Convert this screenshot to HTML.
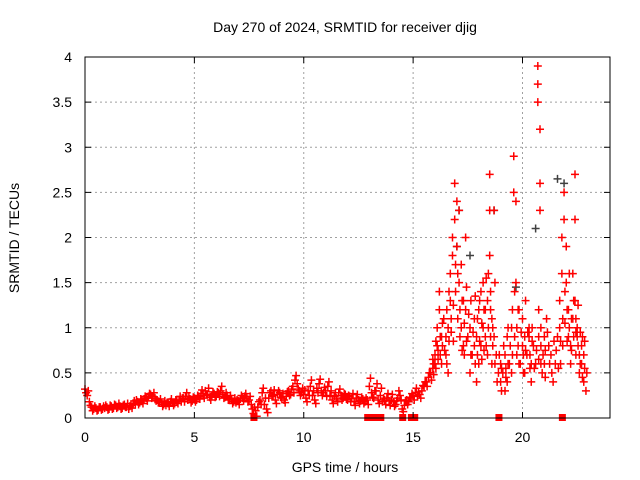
<!DOCTYPE html>
<html><head><meta charset="utf-8"><style>
body{margin:0;background:#fff}
svg{display:block;font-family:"Liberation Sans",Arial,sans-serif}
</style></head><body>
<svg id="chart" width="640" height="480">
<text x="345" y="32" text-anchor="middle" font-size="14">Day 270 of 2024, SRMTID for receiver djig</text>
<text x="345" y="472" text-anchor="middle" font-size="14">GPS time / hours</text>
<text transform="translate(19,238) rotate(-90)" text-anchor="middle" font-size="14">SRMTID / TECUs</text>
<g id="grid"></g><g id="marks"></g><g id="axes"></g>
</svg>
<script>
const xTicks=[0,5,10,15,20];
const yTicks=[0,0.5,1,1.5,2,2.5,3,3.5,4];
const yTickLabels=["0","0.5","1","1.5","2","2.5","3","3.5","4"];
const baseStart=0, baseStep=0.1;
const baseA=[0.32,0.25,0.18,0.12,0.10,0.11,0.09,0.12,0.10,0.11,
0.12,0.10,0.13,0.11,0.14,0.12,0.13,0.11,0.15,0.12,
0.10,0.14,0.16,0.15,0.18,0.17,0.19,0.21,0.22,0.24,
0.26,0.24,0.22,0.20,0.18,0.17,0.15,0.14,0.16,0.18,
0.17,0.16,0.19,0.20,0.18,0.22,0.24,0.20,0.21,0.19,
0.22,0.20,0.24,0.27,0.25,0.30,0.26,0.23,0.25,0.27,
0.24,0.28,0.30,0.26,0.23,0.25,0.21,0.20,0.18,0.17,
0.19,0.21,0.22,0.24,0.22,0.20,0.15,0.05,0.08,0.12,
0.20,0.28,0.15,0.10,0.22,0.30,0.25,0.20,0.26,0.28,
0.22,0.20,0.24,0.30,0.26,0.35,0.42,0.38,0.30,0.28,
0.26,0.22,0.30,0.35,0.25,0.20,0.33,0.38,0.30,0.28,
0.30,0.35,0.25,0.20,0.24,0.22,0.28,0.25,0.22,0.26,
0.20,0.24,0.22,0.18,0.22,0.20,0.19,0.21,0.18,0.20,
0.35,0.28,0.22,0.30,0.20,0.25,0.18,0.20,0.22,0.19,
0.20,0.18,0.15,0.22,0.25,0.10,0.14,0.20,0.18,0.22,
0.25,0.28,0.24,0.26,0.30,0.35];
const baseB=[0.28,0.30,0.14,0.08,0.13,0.08,0.12,0.09,0.13,0.14,
0.09,0.14,0.10,0.15,0.11,0.16,0.10,0.14,0.12,0.16,
0.13,0.11,0.19,0.20,0.15,0.21,0.16,0.24,0.19,0.27,
0.22,0.28,0.19,0.17,0.21,0.13,0.19,0.17,0.13,0.21,
0.14,0.20,0.16,0.24,0.22,0.18,0.28,0.24,0.17,0.23,
0.18,0.25,0.21,0.31,0.22,0.26,0.33,0.20,0.29,0.23,
0.29,0.24,0.35,0.22,0.28,0.20,0.25,0.16,0.22,0.20,
0.15,0.25,0.19,0.27,0.18,0.24,0.10,0.12,0.02,0.18,
0.15,0.33,0.22,0.06,0.28,0.24,0.31,0.16,0.30,0.23,
0.27,0.17,0.29,0.25,0.32,0.28,0.47,0.32,0.25,0.33,
0.31,0.18,0.25,0.42,0.30,0.16,0.28,0.43,0.25,0.34,
0.24,0.40,0.30,0.16,0.28,0.18,0.32,0.20,0.27,0.21,
0.25,0.18,0.27,0.14,0.26,0.16,0.23,0.16,0.22,0.15,
0.44,0.23,0.30,0.38,0.16,0.33,0.22,0.15,0.27,0.14,
0.26,0.13,0.19,0.30,0.20,0.07,0.19,0.15,0.23,0.27,
0.20,0.33,0.29,0.22,0.36,0.40];
const stormT=[15.6,15.7,15.8,15.9,15.9,16.0,16.0,16.1,16.1,16.2,16.2,16.3,16.3,16.4,16.5,16.5,16.6,16.6,16.7,16.7,16.8,16.8,16.9,16.9,17.0,17.0,17.1,17.1,17.2,17.2,17.3,17.3,17.4,17.4,17.5,17.6,17.6,17.7,17.8,17.8,17.9,17.9,18.0,18.0,18.1,18.1,18.2,18.2,18.3,18.3,18.4,18.4,18.5,18.5,18.5,18.6,18.6,18.7,18.7,18.8,18.9,19.0,19.0,19.1,19.2,19.2,19.3,19.3,19.4,19.5,19.5,19.6,19.6,19.7,19.7,19.8,19.8,19.9,20.0,20.0,20.1,20.1,20.2,20.3,20.3,20.4,20.4,20.5,20.6,20.7,20.7,20.7,20.8,20.8,20.8,20.9,21.0,21.0,21.1,21.2,21.3,21.4,21.5,21.6,21.7,21.7,21.8,21.8,21.9,21.9,22.0,22.0,22.1,22.1,22.2,22.2,22.3,22.3,22.4,22.4,22.4,22.5,22.5,22.6,22.6,22.7,22.7,22.8,22.8,22.9];
const stormA=[0.40,0.45,0.50,0.55,0.65,0.60,0.70,0.80,1.00,1.20,1.40,0.90,0.60,1.10,0.70,0.90,1.00,0.50,1.30,1.60,1.80,2.00,2.60,2.20,1.90,2.40,1.50,2.30,1.70,1.00,0.80,1.30,2.00,1.20,0.90,0.50,1.00,0.70,1.10,0.80,0.40,0.90,1.20,0.60,0.80,1.40,1.50,1.00,0.90,1.20,1.30,0.70,2.30,2.70,1.80,1.10,0.60,0.90,2.30,0.70,0.50,0.40,0.60,0.50,0.30,0.70,0.90,0.40,0.60,1.00,0.50,2.90,2.50,2.40,1.50,1.20,0.80,0.60,0.80,1.10,0.90,0.50,0.70,0.90,1.00,0.60,0.40,0.80,0.60,3.90,3.70,3.50,3.20,2.60,2.30,0.50,0.60,0.90,1.10,0.80,0.70,0.40,0.60,0.90,1.30,1.00,1.60,2.00,2.20,2.50,1.90,1.50,1.20,0.90,0.80,0.60,1.60,1.10,2.70,2.20,1.30,0.90,1.00,0.70,0.50,0.80,0.60,0.40,0.70,0.30];
const stormB=[0.35,0.50,0.42,0.60,0.48,0.55,0.85,0.65,0.75,0.90,0.70,1.05,0.80,0.75,1.20,0.60,0.85,1.40,0.95,1.10,1.25,0.85,1.70,1.40,1.10,1.60,0.90,1.20,1.30,0.75,1.05,0.70,1.45,0.85,1.15,0.70,1.30,0.95,0.60,1.35,0.70,1.10,0.85,1.30,1.05,0.65,1.20,0.75,1.55,0.80,1.00,1.60,1.20,0.90,1.40,0.80,1.00,1.50,0.60,0.40,0.70,0.55,0.30,0.80,0.55,0.45,0.60,1.00,0.80,0.70,1.20,0.90,1.40,0.70,1.00,0.60,1.20,0.95,0.50,0.70,1.30,0.75,0.95,0.55,0.70,1.00,0.85,0.55,0.75,0.65,0.90,1.20,0.60,0.80,1.00,0.70,0.45,0.75,0.95,0.60,0.50,0.85,0.75,0.55,0.85,0.60,1.10,0.80,1.40,1.05,1.20,0.85,1.60,1.00,0.75,1.10,0.90,1.30,0.70,1.10,0.95,0.80,1.25,0.60,0.95,0.45,0.90,0.55,0.85,0.50];
const zeroT=[7.7,12.9,13.2,13.5,14.5,14.9,15.05,18.9,21.8];
const grayT=[17.0,17.1,17.6,18.7,19.7,20.6,21.6,21.9];
const grayV=[1.9,2.3,1.8,2.3,1.45,2.1,2.65,2.6];

const L=85,R=610,T=57,B=418,XMAX=24,YMAX=4;
const X=v=>L+(R-L)*v/XMAX, Y=v=>B-(B-T)*v/YMAX;
const NS="http://www.w3.org/2000/svg";
function mk(tag,attrs,parent){const e=document.createElementNS(NS,tag);for(const k in attrs)e.setAttribute(k,attrs[k]);parent.appendChild(e);return e;}
const grid=document.getElementById('grid'),marks=document.getElementById('marks'),axes=document.getElementById('axes');
xTicks.forEach((t,i)=>{
  if(t>0){const g=mk('line',{x1:X(t),x2:X(t),y1:T,y2:B,stroke:'#a0a0a0','stroke-dasharray':'2,3'},grid);
  
  }
  mk('line',{x1:X(t),x2:X(t),y1:B,y2:B-6,stroke:'#000'},axes);
  mk('line',{x1:X(t),x2:X(t),y1:T,y2:T+6,stroke:'#000'},axes);
  const lb=mk('text',{x:X(t),y:B+24,'text-anchor':'middle','font-size':14},axes);lb.textContent=t;
  
  
});
yTicks.forEach((t,i)=>{
  if(t>0&&t<YMAX){const g=mk('line',{x1:L,x2:R,y1:Y(t),y2:Y(t),stroke:'#a0a0a0','stroke-dasharray':'2,3'},grid);
  
  }
  mk('line',{x1:L,x2:L+6,y1:Y(t),y2:Y(t),stroke:'#000'},axes);
  mk('line',{x1:R,x2:R-6,y1:Y(t),y2:Y(t),stroke:'#000'},axes);
  const lb=mk('text',{x:L-13,y:Y(t)+5,'text-anchor':'end','font-size':14},axes);lb.textContent=yTickLabels[i];
  
  
});
const frame=mk('rect',{x:L,y:T,width:R-L,height:B-T,fill:'none',stroke:'#000'},axes);


function plus(t,v,color,name){
  const x=X(t),y=Y(v);
  const p=mk('path',{d:`M${x-4},${y}H${x+4}M${x},${y-4}V${y+4}`,stroke:color,'stroke-width':1.5,fill:'none'},marks);
  
  
}
grayT.forEach((t,i)=>plus(t,grayV[i],'#404040','gray-point'));
baseA.forEach((v,i)=>plus(baseStart+i*baseStep,v,'#ff0000','data-point'));
baseB.forEach((v,i)=>plus(baseStart+i*baseStep+0.05,v,'#ff0000','data-point'));
stormT.forEach((t,i)=>{plus(t,stormA[i],'#ff0000','data-point');plus(t+0.04,stormB[i],'#ff0000','data-point');});
zeroT.forEach(t=>{
  const r=mk('rect',{x:X(t)-3,y:Y(0)-4,width:7,height:7,fill:'#ff0000'},marks);
  
  
});
</script>
</body></html>
